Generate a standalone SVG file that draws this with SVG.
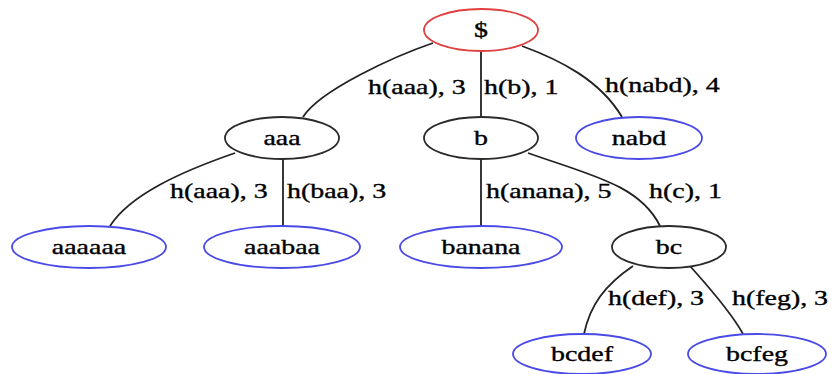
<svg xmlns="http://www.w3.org/2000/svg" width="832" height="374" viewBox="0 0 832 374">
<style>
.e{fill:#fff;stroke-width:1.8}
.k{stroke:#2a2a2a}
.r{stroke:#e04040}
.bl{stroke:#4a4ae6}
.t{font-family:"Liberation Serif","Times New Roman",serif;font-size:21px;fill:#000;stroke:#000;stroke-width:0.35}
.m{text-anchor:middle}
.c path{fill:none;stroke:#222;stroke-width:1.8}
</style>
<rect width="832" height="374" fill="#fff"/>
<g class="c" id="connectors">
<path d="M433,43 C395,56 320,90 303,117"/>
<path d="M481,51 L481,117"/>
<path d="M522,46 C560,60 600,80 622,117"/>
<path d="M235,153 C180,172 130,195 110,226"/>
<path d="M283,160 L283,226"/>
<path d="M481,160 L481,226"/>
<path d="M528,153 C590,175 640,185 660,226"/>
<path d="M633,266 C605,285 590,305 584,334"/>
<path d="M690,266 C705,283 730,310 743,334"/>
</g>
<g class="t" id="edge-labels">
<text transform="translate(368,94) scale(1.33,1)">h(aaa), 3</text>
<text transform="translate(484,94) scale(1.33,1)">h(b), 1</text>
<text transform="translate(605,92) scale(1.33,1)">h(nabd), 4</text>
<text transform="translate(170,198) scale(1.33,1)">h(aaa), 3</text>
<text transform="translate(287,198) scale(1.33,1)">h(baa), 3</text>
<text transform="translate(486,198) scale(1.33,1)">h(anana), 5</text>
<text transform="translate(649,198) scale(1.33,1)">h(c), 1</text>
<text transform="translate(608,305) scale(1.33,1)">h(def), 3</text>
<text transform="translate(732,305) scale(1.33,1)">h(feg), 3</text>
</g>
<g id="n-root"><ellipse class="e r" cx="481" cy="30" rx="57" ry="21"/><text class="t m" transform="translate(481,37) scale(1.33,1)">$</text></g>
<g id="n-aaa"><ellipse class="e k" cx="282" cy="138" rx="57" ry="21"/><text class="t m" transform="translate(282,145) scale(1.33,1)">aaa</text></g>
<g id="n-b"><ellipse class="e k" cx="481" cy="138" rx="57" ry="21"/><text class="t m" transform="translate(481,145) scale(1.33,1)">b</text></g>
<g id="n-nabd"><ellipse class="e bl" cx="639" cy="138" rx="63" ry="21"/><text class="t m" transform="translate(639,145) scale(1.33,1)">nabd</text></g>
<g id="n-aaaaaa"><ellipse class="e bl" cx="89" cy="247" rx="77" ry="21"/><text class="t m" transform="translate(89,254) scale(1.33,1)">aaaaaa</text></g>
<g id="n-aaabaa"><ellipse class="e bl" cx="282" cy="247" rx="78" ry="21"/><text class="t m" transform="translate(282,254) scale(1.33,1)">aaabaa</text></g>
<g id="n-banana"><ellipse class="e bl" cx="481" cy="247" rx="81" ry="21"/><text class="t m" transform="translate(481,254) scale(1.33,1)">banana</text></g>
<g id="n-bc"><ellipse class="e k" cx="669" cy="247" rx="57" ry="21"/><text class="t m" transform="translate(669,254) scale(1.33,1)">bc</text></g>
<g id="n-bcdef"><ellipse class="e bl" cx="582" cy="354" rx="69" ry="20"/><text class="t m" transform="translate(582,361) scale(1.33,1)">bcdef</text></g>
<g id="n-bcfeg"><ellipse class="e bl" cx="757" cy="354" rx="69" ry="20"/><text class="t m" transform="translate(757,361) scale(1.33,1)">bcfeg</text></g>
</svg>
